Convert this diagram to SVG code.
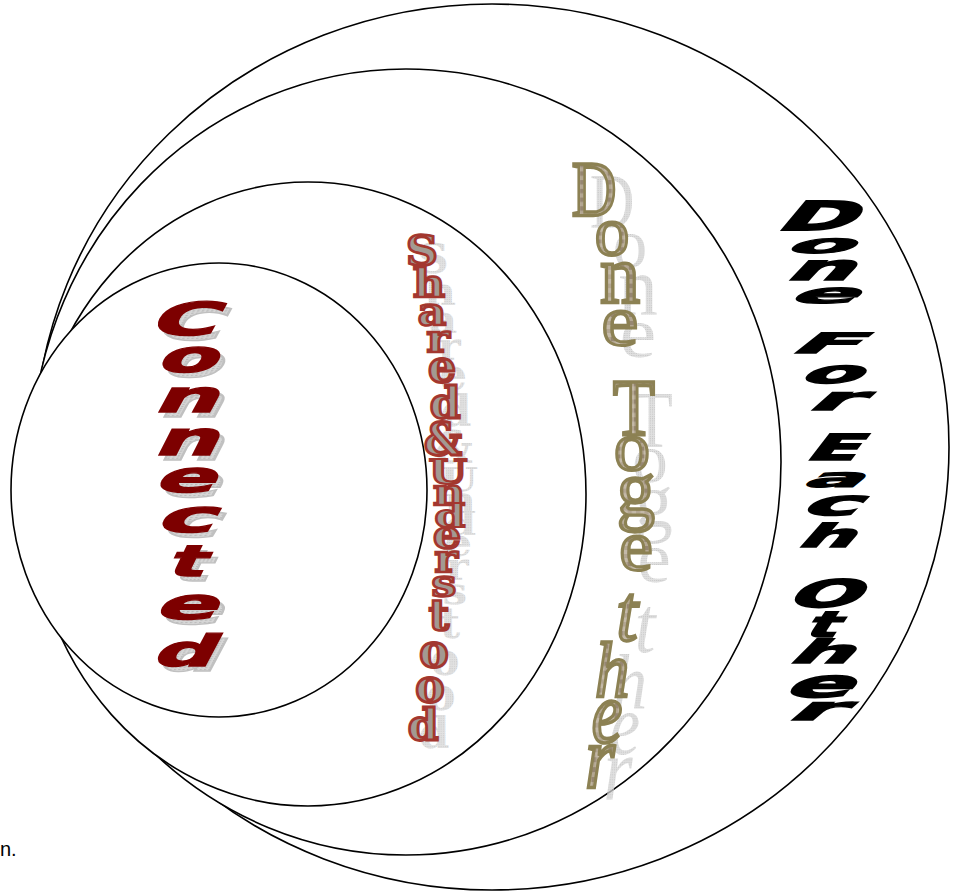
<svg xmlns="http://www.w3.org/2000/svg" xmlns:xlink="http://www.w3.org/1999/xlink" width="954" height="894" viewBox="0 0 954 894">
<style>
.ring{fill:#fff;stroke:#000;stroke-width:1.6}
.blk text{font-family:"DejaVu Sans",sans-serif;font-weight:bold;font-size:40px;text-anchor:middle}
.cn text{font-family:"DejaVu Sans",sans-serif;font-weight:bold;font-size:40px;text-anchor:middle}
.sh text{font-family:"DejaVu Serif",serif;font-weight:bold;font-size:40px;text-anchor:middle}
.dt text{font-family:"Liberation Serif",serif;font-size:72px;text-anchor:middle}
.dt text.it{font-style:italic}
.note{font-family:"Liberation Sans",sans-serif;font-size:20px;fill:#000}
</style>
<defs>
<pattern id="chk" patternUnits="userSpaceOnUse" width="8" height="8">
<rect width="8" height="8" fill="#b3a692"/>
<rect width="4" height="4" fill="#968672"/>
<rect x="4" y="4" width="4" height="4" fill="#c4b9a8"/>
</pattern>
<pattern id="dots" patternUnits="userSpaceOnUse" width="2" height="2">
<rect width="2" height="2" fill="#d6d6d6"/>
<rect width="1" height="1" fill="#b8b8b8"/>
</pattern>
<g id="w-connected" class="cn">
<text transform="translate(181,335) scale(2.3,1.14) skewX(-15)">C</text>
<text transform="translate(185,372) scale(2.2,1.12) skewX(-15)">o</text>
<text transform="translate(184,412) scale(2.25,1.1) skewX(-15)">n</text>
<text transform="translate(184,455) scale(2.25,1.18) skewX(-15)">n</text>
<text transform="translate(183,492) scale(2.25,1.08) skewX(-15)">e</text>
<text transform="translate(183.5,532) scale(2.5,1.12) skewX(-15)">c</text>
<text transform="translate(184,576) scale(1.95,1.08) skewX(-15)">t</text>
<text transform="translate(184,619) scale(2.3,1.08) skewX(-15)">e</text>
<text transform="translate(181,666) scale(2.15,1.08) skewX(-15)">d</text>
</g>
<g id="w-shared" class="sh">
<text transform="translate(422,265) scale(1.1,1.03)">S</text>
<text transform="translate(429,297) scale(1.1,1)">h</text>
<text transform="translate(432,325) scale(1.1,0.96)">a</text>
<text transform="translate(438,352) scale(1.1,0.96)">r</text>
<text transform="translate(442,382) scale(1.1,1.1)">e</text>
<text transform="translate(445,418) scale(1.1,1.08)">d</text>
<text transform="translate(443,455) scale(1.05,1.1)">&amp;</text>
<text transform="translate(448,484) scale(1.1,0.85)">U</text>
<text transform="translate(449,505) scale(1.1,0.9)">n</text>
<text transform="translate(450,527) scale(1.1,0.8)">d</text>
<text transform="translate(447,548) scale(1.1,1)">e</text>
<text transform="translate(446,572) scale(1.1,1)">r</text>
<text transform="translate(444,596) scale(1.1,0.9)">s</text>
<text transform="translate(439,630) scale(1.1,1.05)">t</text>
<text transform="translate(434,667) scale(1.1,1.15)">o</text>
<text transform="translate(430,702) scale(1.1,1.15)">o</text>
<text transform="translate(423,740) scale(1.1,1.08)">d</text>
</g>
<g id="w-together" class="dt">
<text transform="translate(594,215) scale(0.86,1.09)">D</text>
<text transform="translate(612,255) scale(0.96,0.97)">o</text>
<text transform="translate(620,302) scale(1.1,1.15)">n</text>
<text transform="translate(620,345) scale(1.15,1)">e</text>
<text transform="translate(634,435) scale(0.95,1.11)">T</text>
<text transform="translate(632,470) scale(1.0,0.97)">o</text>
<text transform="translate(636,515) scale(1.05,1.1)">g</text>
<text transform="translate(636,570) scale(1.05,1)">e</text>
<text class="it" transform="translate(627,640) scale(1.05,1.12)">t</text>
<text class="it" transform="translate(612,697) scale(0.95,1.1)">h</text>
<text class="it" transform="translate(607,742) scale(0.95,1.2)">e</text>
<text class="it" transform="translate(600,787) scale(1.05,1.24)">r</text>
</g>
</defs>

<g id="rings">
<ellipse id="ring-outer" class="ring" cx="492" cy="447" rx="457" ry="443"/>
<ellipse id="ring-third" class="ring" cx="406" cy="462" rx="375" ry="393"/>
<ellipse id="ring-second" class="ring" cx="308" cy="494" rx="278" ry="312"/>
<ellipse id="ring-inner" class="ring" cx="219" cy="490" rx="208" ry="227"/>
</g>

<g id="node-done-for-each-other" class="blk" fill="#000" stroke="#000" stroke-width="1.8">
<text transform="translate(812.5,230) scale(2.3,1.0) skewX(-20)">D</text>
<text transform="translate(815.5,253) scale(2.4,0.65) skewX(-20)">o</text>
<text transform="translate(816.5,280) scale(2.3,0.88) skewX(-20)">n</text>
<text transform="translate(819.5,303) scale(2.45,0.69) skewX(-20)">e</text>
<text transform="translate(821,353) scale(2.45,0.7) skewX(-20)">F</text>
<text transform="translate(827.5,383) scale(2.2,0.78) skewX(-20)">o</text>
<text transform="translate(830,410) scale(2.5,0.8) skewX(-20)">r</text>
<text transform="translate(829.5,460) scale(1.9,0.9) skewX(-20)">E</text>
<text transform="translate(829.5,487) scale(2.15,0.65) skewX(-20)">a</text>
<text transform="translate(827,515) scale(2.4,0.86) skewX(-20)">c</text>
<text transform="translate(823,547) scale(1.95,0.8) skewX(-20)">h</text>
<text transform="translate(820,607) scale(2.1,0.95) skewX(-20)">O</text>
<text transform="translate(818.5,637) scale(1.65,0.9) skewX(-20)">t</text>
<text transform="translate(817.5,663) scale(2.2,0.8) skewX(-20)">h</text>
<text transform="translate(814.5,697) scale(2.45,0.95) skewX(-20)">e</text>
<text transform="translate(810.5,720) scale(2.6,0.8) skewX(-20)">r</text>
</g>

<g id="node-done-together">
<use xlink:href="#w-together" href="#w-together" transform="translate(18,12)" fill="url(#dots)" opacity="0.75"/>
<use xlink:href="#w-together" href="#w-together" fill="url(#chk)" stroke="#8c8153" stroke-width="3"/>
</g>

<g id="node-shared-understood">
<use xlink:href="#w-shared" href="#w-shared" transform="translate(11,8)" fill="url(#dots)" opacity="0.7"/>
<use xlink:href="#w-shared" href="#w-shared" fill="#a39a92" stroke="#a3372f" stroke-width="2.6"/>
</g>

<g id="node-connected">
<use xlink:href="#w-connected" href="#w-connected" transform="translate(5,5)" fill="url(#dots)" stroke="#c0c0c0" stroke-width="1.2"/>
<use xlink:href="#w-connected" href="#w-connected" fill="#7d0000" stroke="#7d0000" stroke-width="1.2"/>
</g>

<text class="note" x="0" y="856">n.</text>
</svg>
